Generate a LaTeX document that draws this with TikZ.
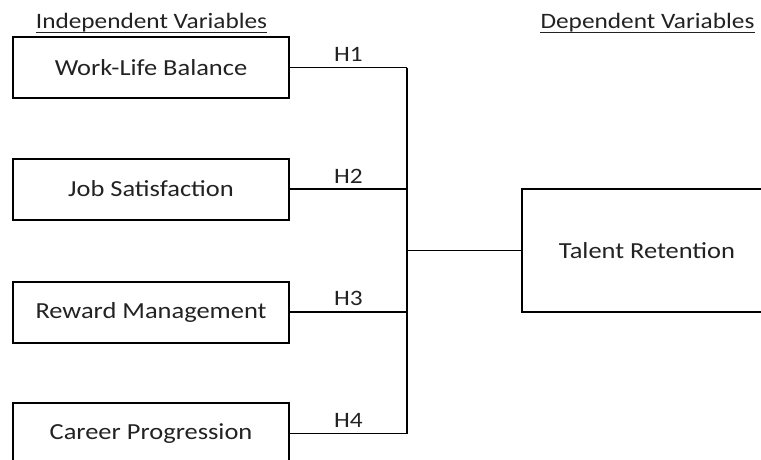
\documentclass[tikz,border=0pt]{standalone}
\usepackage{fontspec}
\setmainfont{Carlito}[FakeStretch=1.15]
\definecolor{txt}{RGB}{34,34,34}
\tikzset{
  varbox/.style={draw, line width=2pt, minimum width=276pt, minimum height=61pt, inner sep=0pt, font=\fontsize{23}{27}\selectfont, text=txt},
  conn/.style={line width=1.8pt},
  hlabel/.style={font=\fontsize{22}{26}\selectfont, text=txt, inner sep=1pt, above=4pt},
  title/.style={font=\fontsize{22}{26}\selectfont, text=txt, inner sep=0pt, anchor=base},
  uline/.style={line width=1.4pt, txt}
}
\begin{document}
\begin{tikzpicture}[x=1pt,y=1pt]
\useasboundingbox (0,0) rectangle (761,-459);
\clip (0,0) rectangle (761,-459);
\node[title] (t1) at (151.5,-28) {Independent Variables};
\node[title] (t2) at (647.5,-28) {Dependent Variables};
\draw[uline] ([yshift=-4.5pt]t1.base west) -- ([yshift=-4.5pt]t1.base east);
\draw[uline] ([yshift=-4.5pt]t2.base west) -- ([yshift=-4.5pt]t2.base east);
\node[varbox] (b1) at (151,-67.5) {Work-Life Balance};
\node[varbox] (b2) at (151,-189) {Job Satisfaction};
\node[varbox] (b3) at (151,-312) {Reward Management};
\node[varbox] (b4) at (151,-433.5) {Career Progression};
\node[varbox, minimum width=250pt, minimum height=123pt] (tr) at (647,-250.5) {Talent Retention};
\coordinate (v) at (407,0);
\draw[conn] (b1.east) -- node[hlabel]{H1} (b1.east -| v);
\draw[conn] (b2.east) -- node[hlabel]{H2} (b2.east -| v);
\draw[conn] (b3.east) -- node[hlabel]{H3} (b3.east -| v);
\draw[conn] (b4.east) -- node[hlabel]{H4} (b4.east -| v);
\draw[conn] (b1.east -| v) -- (b4.east -| v);
\draw[conn] (tr.west -| v) -- (tr.west);
\end{tikzpicture}
\end{document}
